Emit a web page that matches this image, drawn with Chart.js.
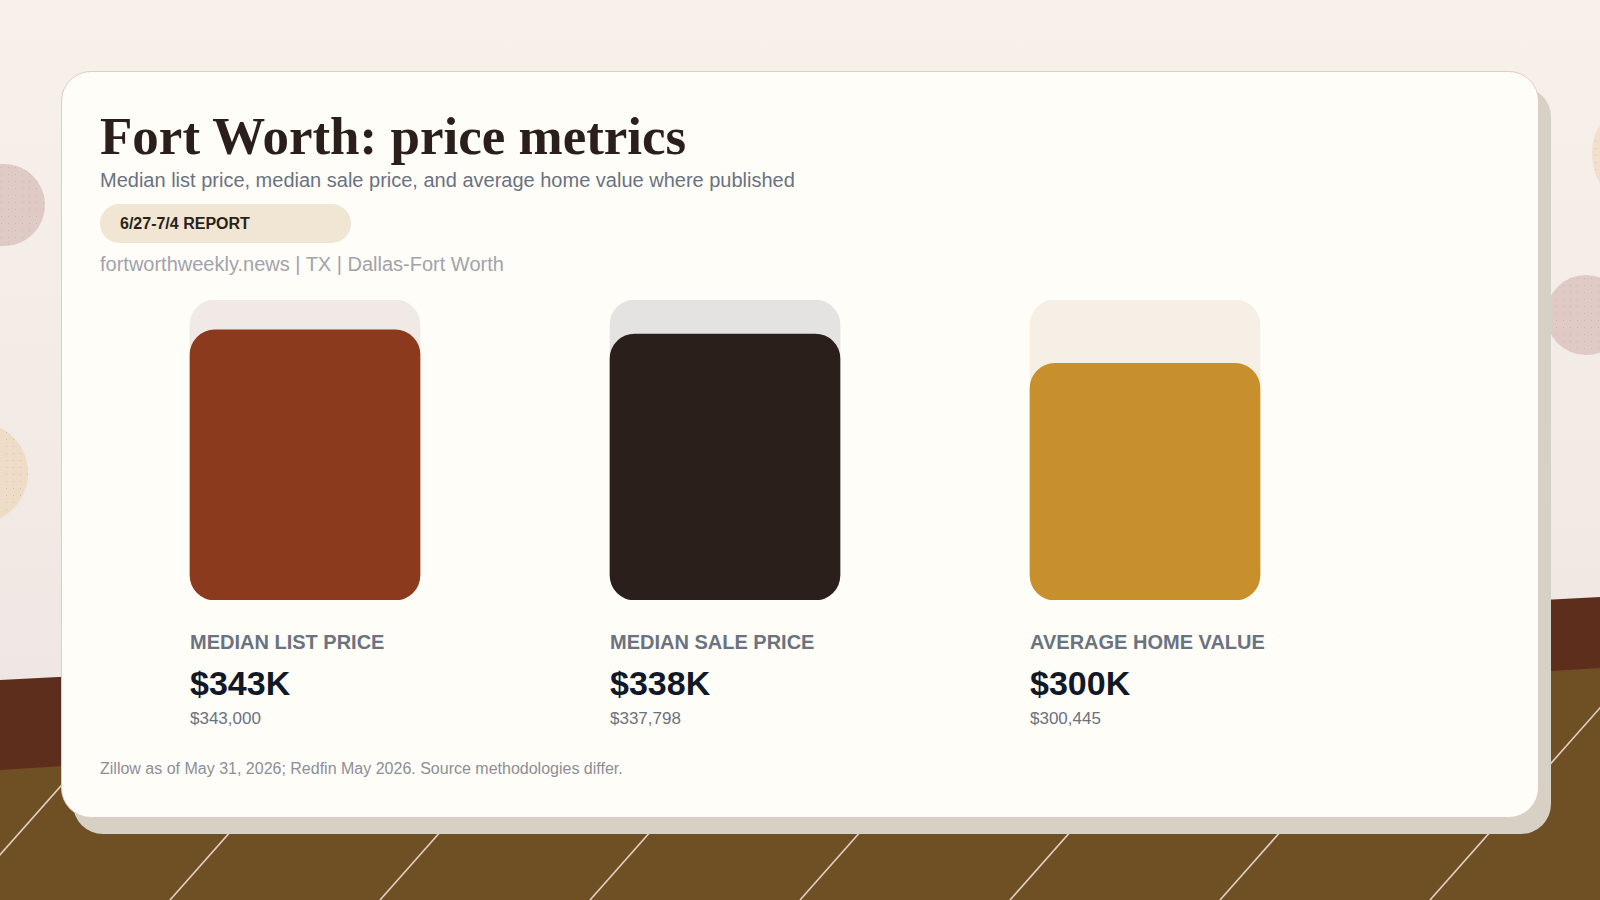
<!DOCTYPE html>
<html>
<head>
<meta charset="utf-8">
<script src="https://cdn.jsdelivr.net/npm/chart.js@4.4.1/dist/chart.umd.min.js"></script>
<style>
  html, body { margin: 0; padding: 0; }
  body {
    width: 1600px; height: 900px; position: relative; overflow: hidden;
    background: linear-gradient(180deg, #f8f1ea 0%, #f3ebe6 45%, #f0e7e4 75%);
    font-family: "Liberation Sans", Arial, sans-serif;
  }
  .dot {
    position: absolute; border-radius: 50%;
    background-image: radial-gradient(rgba(150,160,185,0.45) 0.6px, transparent 1px);
    background-size: 7px 7px;
  }
  #ground { position: absolute; left: 0; top: 0; }
  .card {
    position: absolute; left: 61px; top: 71px; width: 1476px; height: 745px;
    background: #fefdf8; border: 1.5px solid #e0cbc5; border-radius: 30px;
    box-shadow: 12px 16px 0 #d6d0c5;
  }
  .abs { position: absolute; white-space: nowrap; line-height: 1; }
  h1 {
    margin: 0; left: 100px; top: 110px; font-family: "Liberation Serif", serif;
    font-weight: bold; font-size: 53px; color: #2a1f1a;
  }
  .sub { left: 100px; top: 170px; font-size: 20px; color: #6b7280; }
  .badge {
    left: 100px; top: 204px; width: 251px; height: 39px; border-radius: 20px;
    background: #f1e5d3; display: flex; align-items: center; box-sizing: border-box;
    padding-left: 20px; font-weight: bold; font-size: 16px; color: #2a1f1a;
  }
  .src { left: 100px; top: 254px; font-size: 20px; color: #a3a3ab; }
  .foot { left: 100px; top: 761px; font-size: 16px; color: #8e8e96; }
  #chart { position: absolute; left: 95px; top: 300px; }
  .lab { font-weight: bold; font-size: 20px; color: #6b7280; }
  .big { font-weight: bold; font-size: 34px; color: #111827; }
  .small { font-size: 17px; color: #6b7280; }
</style>
</head>
<body>
<svg id="ground" width="1600" height="900">
  <defs>
    <clipPath id="olive">
      <polygon points="0,770 1600,668 1600,900 0,900"/>
    </clipPath>
  </defs>
  <polygon points="0,680 1600,597 1600,900 0,900" fill="#5e2e1c"/>
  <polygon points="0,770 1600,668 1600,900 0,900" fill="#6e5024"/>
  <g id="stripes" clip-path="url(#olive)" stroke="#e6cfc4" stroke-width="1.6"></g>
</svg>
<div class="dot" style="left:-37px;top:164px;width:82px;height:82px;background-color:#dfcac6;"></div>
<div class="dot" style="left:-74px;top:422px;width:102px;height:102px;background-color:#efdcc6;"></div>
<div class="dot" style="left:1546px;top:275px;width:80px;height:80px;background-color:#dfcac6;"></div>
<div class="dot" style="left:1592px;top:96px;width:116px;height:116px;background-color:#f1e0cc;"></div>

<div class="card"></div>
<h1 class="abs">Fort Worth: price metrics</h1>
<div class="abs sub">Median list price, median sale price, and average home value where published</div>
<div class="abs badge">6/27-7/4 REPORT</div>
<div class="abs src">fortworthweekly.news | TX | Dallas-Fort Worth</div>
<canvas id="chart" width="1260" height="300"></canvas>
<div id="labels"></div>
<div class="abs foot">Zillow as of May 31, 2026; Redfin May 2026. Source methodologies differ.</div>

<script>
const categories = ["MEDIAN LIST PRICE", "MEDIAN SALE PRICE", "AVERAGE HOME VALUE"];
const values = [343000, 337798, 300445];
const shortLabels = ["$343K", "$338K", "$300K"];
const fullLabels = ["$343,000", "$337,798", "$300,445"];
const barColors = ["#8b3a1e", "#2a1f1b", "#c8902c"];
const trackColors = ["#f0e9e5", "#e4e3e1", "#f6efe6"];
const yMax = 381000;
const trackValues = [yMax, yMax, yMax];

// diagonal stripes on the ground
const stripes = document.getElementById("stripes");
for (let k = 0; k < 9; k++) {
  const x0 = -40 + 210 * k;
  const l = document.createElementNS("http://www.w3.org/2000/svg", "line");
  l.setAttribute("x1", x0);
  l.setAttribute("y1", 900);
  l.setAttribute("x2", x0 + 300 / 1.13);
  l.setAttribute("y2", 600);
  stripes.appendChild(l);
}

const ctx = document.getElementById("chart");
const chart = new Chart(ctx, {
  type: "bar",
  data: {
    labels: categories,
    datasets: [
      {
        data: values,
        backgroundColor: barColors,
        borderRadius: 25,
        borderSkipped: false,
        barThickness: 230,
        grouped: false,
      },
      {
        data: trackValues,
        backgroundColor: trackColors,
        borderRadius: 25,
        borderSkipped: false,
        barThickness: 230,
        grouped: false,
      },
    ],
  },
  options: {
    responsive: false,
    animation: false,
    layout: { padding: 0 },
    plugins: { legend: { display: false }, tooltip: { enabled: false } },
    scales: {
      x: { display: false },
      y: { display: false, min: 0, max: yMax },
    },
  },
});

// labels under each bar, placed from the x scale
const holder = document.getElementById("labels");
const xs = chart.scales.x;
categories.forEach((c, i) => {
  const left = 95 + xs.getPixelForValue(i) - 115;
  holder.insertAdjacentHTML("beforeend",
    `<div class="abs lab" style="left:${left}px;top:632px">${c}</div>` +
    `<div class="abs big" style="left:${left}px;top:666px">${shortLabels[i]}</div>` +
    `<div class="abs small" style="left:${left}px;top:710px">${fullLabels[i]}</div>`);
});
</script>
</body>
</html>
